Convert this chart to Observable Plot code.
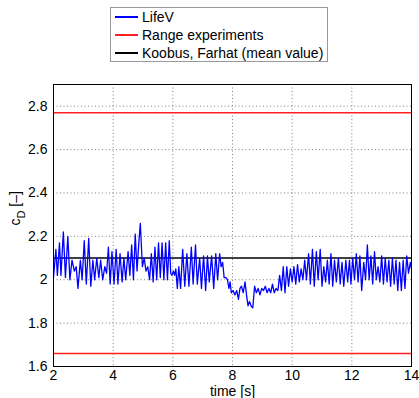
<!DOCTYPE html>
<html>
<head>
<meta charset="utf-8">
<script src="https://cdn.jsdelivr.net/npm/d3@7"></script>
<script src="https://cdn.jsdelivr.net/npm/@observablehq/plot@0.6"></script>
<style>
  body { margin: 0; background: white; font-family: "Liberation Sans", Arial, sans-serif; }
  #wrap { width: 419px; }
  #legendArea { position: relative; height: 70px; }
  #legend { position: absolute; left: 110px; top: 7px; width: 218px; height: 55px;
            border: 1px solid #999; background: white; box-sizing: border-box; }
  .row { display: flex; align-items: center; height: 18px; font-size: 14px; line-height: 18px; color: #000; }
  .sw { display: inline-block; width: 23px; height: 2px; margin-left: 4px; margin-right: 4px; }
</style>
</head>
<body>
<div id="wrap">
  <div id="legendArea"><div id="legend"></div></div>
  <div id="chart"></div>
</div>
<script>
// ---- data ----
const legendLabels = ["LifeV", "Range experiments", "Koobus, Farhat (mean value)"];
const legendColors = ["#0000ff", "#ff2020", "#000000"];
const xTicks = [2, 4, 6, 8, 10, 12, 14];
const yTicks = [1.6, 1.8, 2.0, 2.2, 2.4, 2.6, 2.8];
const rangeExperiments = [1.66, 2.77];
const koobusFarhatMean = [2.10];
// LifeV drag coefficient: [time (s), cD]
const lifeV = [
  [2.00,2.01],[2.08,2.14],[2.13,2.02],[2.20,2.17],[2.25,2.02],[2.33,2.22],[2.40,2.01],[2.48,2.20],[2.55,2.00],
  [2.62,2.09],[2.70,2.04],[2.76,2.06],[2.82,1.96],[2.90,2.09],[2.96,2.00],
  [3.03,2.18],[3.10,1.98],[3.18,2.19],[3.25,1.97],[3.32,2.09],[3.38,2.00],[3.45,2.10],[3.52,2.01],[3.58,2.09],
  [3.65,2.00],[3.72,2.06],[3.78,2.03],[3.84,2.15],[3.90,1.98],[3.96,2.13],
  [4.03,1.98],[4.10,2.14],[4.16,1.98],[4.23,2.12],[4.30,1.99],[4.36,2.10],[4.42,2.00],[4.50,2.13],[4.56,2.02],
  [4.62,2.16],[4.68,2.00],[4.74,2.21],[4.80,2.04],[4.86,2.17],[4.91,2.26],[4.98,2.06],
  [5.04,2.10],[5.10,2.04],[5.16,2.06],[5.22,2.00],[5.28,2.12],[5.34,1.99],[5.40,2.15],[5.46,2.00],[5.52,2.17],
  [5.58,2.01],[5.64,2.17],[5.70,2.00],[5.76,2.17],[5.82,2.00],[5.88,2.18],[5.93,2.03],[5.97,2.02],[6.02,2.04],
  [6.06,2.02],[6.10,2.05],[6.15,1.96],[6.20,2.06],[6.26,1.96],[6.33,2.14],[6.40,1.97],[6.47,2.12],[6.54,1.97],
  [6.62,2.15],[6.68,1.98],[6.76,2.16],[6.82,1.98],[6.90,2.10],[6.96,1.96],
  [7.03,2.11],[7.10,1.95],[7.16,2.11],[7.22,1.99],[7.30,2.11],[7.37,1.96],[7.44,2.12],[7.50,2.00],[7.57,2.12],
  [7.62,2.06],[7.67,2.08],[7.72,2.01],[7.78,2.01],[7.83,2.00],[7.88,1.96],[7.92,1.99],[7.96,1.94],
  [8.02,1.95],[8.08,1.93],[8.14,1.95],[8.20,1.91],[8.25,1.96],[8.30,1.97],[8.36,1.94],[8.42,1.99],[8.47,1.93],
  [8.52,1.88],[8.57,1.90],[8.62,1.88],[8.68,1.87],[8.74,1.97],[8.80,1.94],[8.86,1.96],[8.92,1.93],[8.98,1.96],
  [9.04,1.95],[9.10,1.97],[9.16,1.94],[9.22,1.96],[9.28,1.94],[9.34,1.98],[9.40,1.94],[9.46,1.96],[9.52,1.95],
  [9.58,2.02],[9.64,1.95],[9.70,2.06],[9.76,1.94],[9.82,2.06],[9.88,1.97],[9.94,2.05],
  [10.00,1.99],[10.06,2.06],[10.12,1.98],[10.18,2.07],[10.24,1.99],[10.30,2.05],[10.36,2.00],[10.42,2.09],
  [10.48,2.00],[10.55,2.12],[10.61,1.98],[10.68,2.14],[10.74,1.97],[10.81,2.13],[10.87,2.00],[10.94,2.14],[11.00,1.97],
  [11.06,2.06],[11.12,1.99],[11.18,2.09],[11.24,1.98],[11.30,2.12],[11.36,1.97],[11.42,2.09],[11.48,1.99],
  [11.55,2.10],[11.61,1.98],[11.67,2.08],[11.73,1.97],[11.80,2.09],[11.86,1.99],[11.92,2.09],[11.97,1.98],
  [12.03,2.10],[12.09,2.00],[12.15,2.12],[12.21,1.99],[12.27,2.11],[12.33,1.95],[12.40,2.08],[12.46,2.00],
  [12.52,2.16],[12.58,2.00],[12.64,2.11],[12.70,1.98],[12.76,2.13],[12.82,2.00],[12.88,2.06],[12.94,1.99],
  [13.00,2.11],[13.06,1.98],[13.12,2.10],[13.18,1.99],[13.24,2.09],[13.30,1.97],[13.36,2.10],[13.42,1.98],
  [13.48,2.09],[13.54,1.95],[13.60,2.08],[13.66,1.95],[13.72,2.09],[13.78,1.96],[13.84,2.11],[13.90,2.03],
  [13.96,2.08],[14.00,2.05]
];

// ---- legend ----
const legend = document.getElementById("legend");
legendLabels.forEach((lab, i) => {
  const row = document.createElement("div");
  row.className = "row";
  const sw = document.createElement("span");
  sw.className = "sw";
  sw.style.background = legendColors[i];
  const tx = document.createElement("span");
  tx.textContent = lab;
  row.appendChild(sw); row.appendChild(tx);
  legend.appendChild(row);
});

// ---- chart ----
const fmt = d => String(+d.toFixed(1));
const chart = Plot.plot({
  width: 419,
  height: 328,
  marginTop: 14,
  marginBottom: 32,
  marginLeft: 53,
  marginRight: 8,
  style: { fontFamily: "Liberation Sans, Arial, sans-serif", fontSize: "14px", color: "black", background: "white", overflow: "visible" },
  x: { domain: [2, 14] },
  y: { domain: [1.6, 2.9] },
  marks: [
    Plot.gridX(xTicks, { stroke: "#777", strokeOpacity: 0.9, strokeDasharray: "1,2.5" }),
    Plot.gridY(yTicks, { stroke: "#777", strokeOpacity: 0.9, strokeDasharray: "1,2.5" }),
    Plot.ruleY(rangeExperiments, { stroke: legendColors[1], strokeWidth: 1.6 }),
    Plot.ruleY(koobusFarhatMean, { stroke: legendColors[2], strokeWidth: 1.4 }),
    Plot.line(lifeV, { x: d => d[0], y: d => d[1], stroke: legendColors[0], strokeWidth: 1.3 }),
    Plot.frame({ stroke: "black", strokeWidth: 1 }),
    Plot.axisX(xTicks, { tickSize: 0, tickPadding: 4, tickFormat: fmt, label: null }),
    Plot.axisY(yTicks, { tickSize: 0, tickPadding: 6, tickFormat: fmt, label: null }),
    Plot.text(["time [s]"], { frameAnchor: "bottom", lineAnchor: "middle", dy: 25, text: d => d }),
    Plot.text(["cD [–]"], { frameAnchor: "left", lineAnchor: "middle", dx: -38, rotate: -90, text: d => d })
  ]
});
document.getElementById("chart").appendChild(chart);

// subscript D in y label
for (const t of chart.querySelectorAll("text")) {
  if (t.textContent === "cD [–]") {
    const tgt = t.querySelector("tspan") || t;
    tgt.textContent = "";
    const ns = "http://www.w3.org/2000/svg";
    const a = document.createElementNS(ns, "tspan"); a.textContent = "c";
    const b = document.createElementNS(ns, "tspan"); b.textContent = "D"; b.setAttribute("font-size", "11px"); b.setAttribute("dy", "5");
    const c = document.createElementNS(ns, "tspan"); c.textContent = " [–]"; c.setAttribute("dy", "-5");
    tgt.appendChild(a); tgt.appendChild(b); tgt.appendChild(c);
  }
}
</script>
</body>
</html>
